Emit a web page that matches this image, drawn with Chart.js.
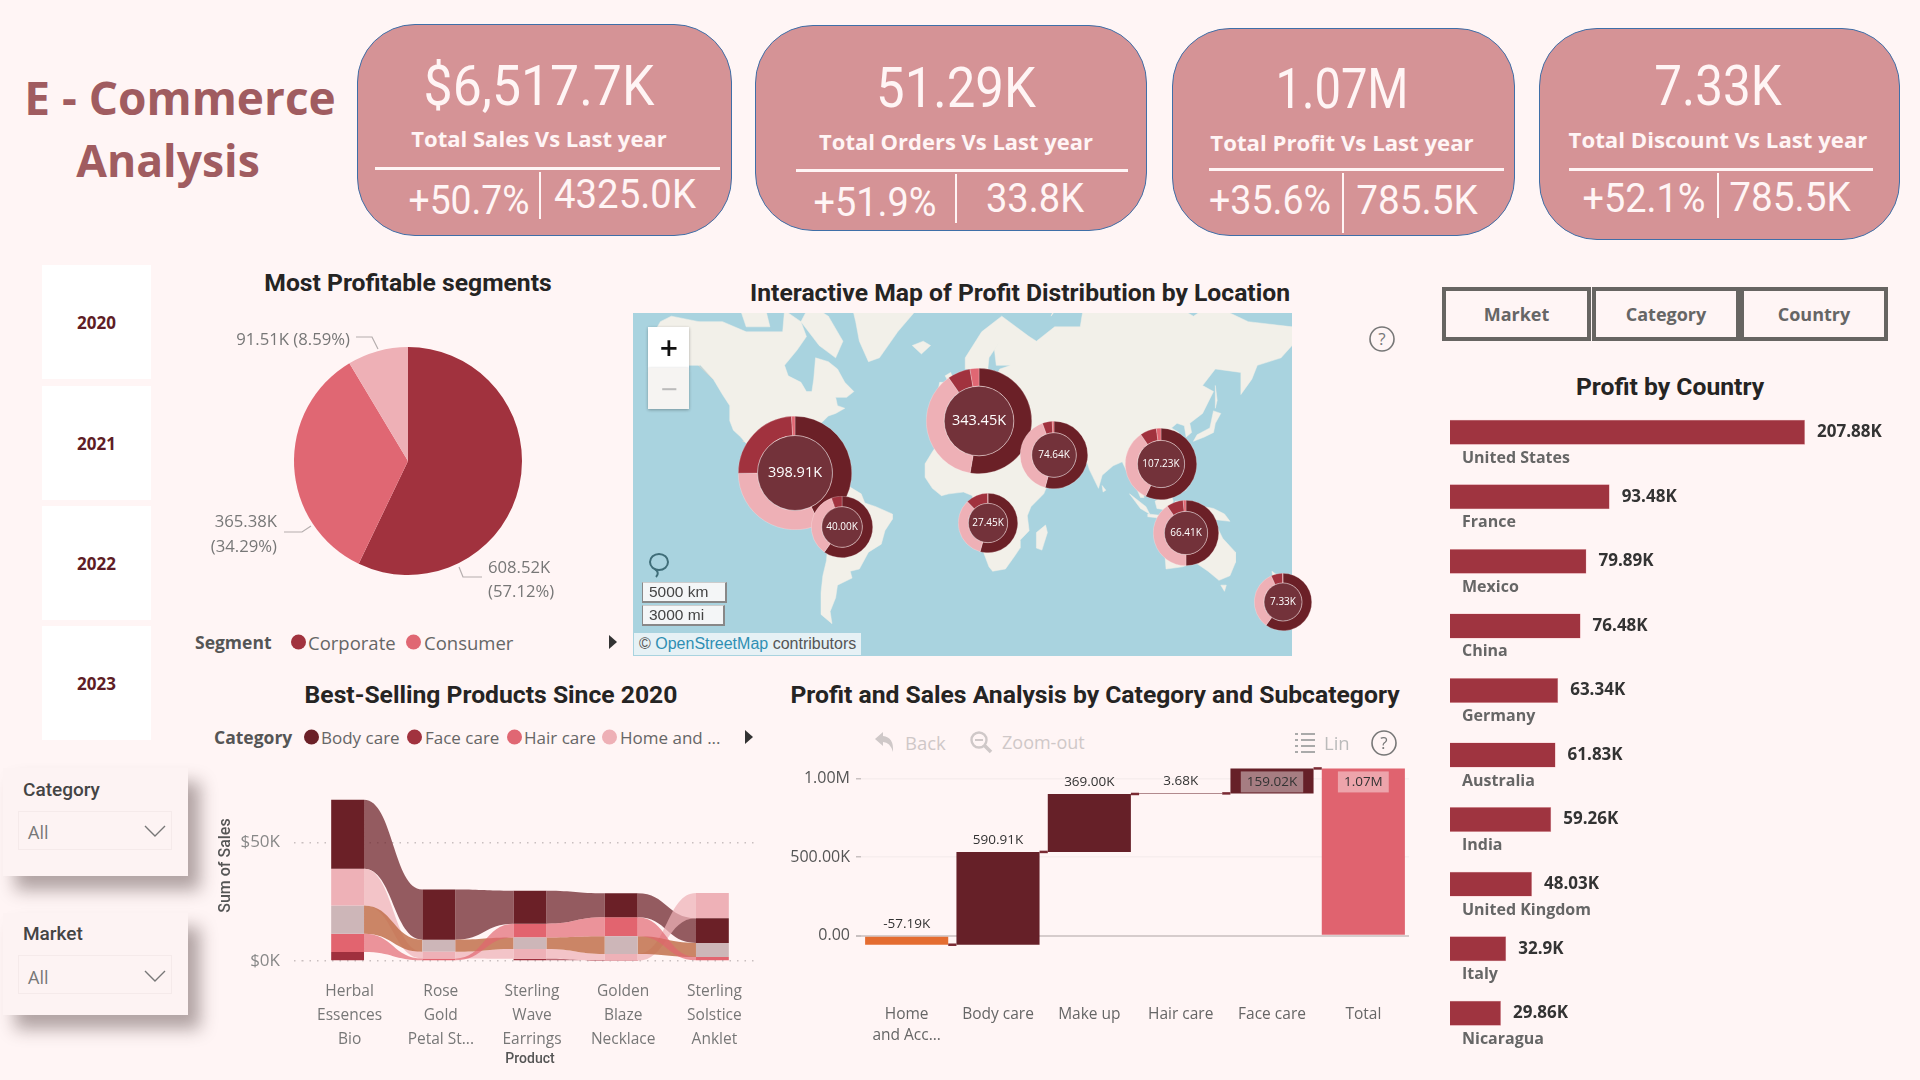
<!DOCTYPE html>
<html>
<head>
<meta charset="utf-8">
<title>E - Commerce Analysis</title>
<script src="https://cdn.jsdelivr.net/npm/chart.js@4"></script>
<style>
  html, body { margin: 0; padding: 0; background: #fff5f5; }
  #page { position: relative; width: 1920px; height: 1080px; overflow: hidden; background: #fff5f5; font-family: 'Open Sans', sans-serif; }
  #page canvas { position: absolute; }
  .t { position: absolute; white-space: nowrap; transform: translate(-50%, -50%); }
  .l { position: absolute; white-space: nowrap; transform: translateY(-50%); }
  .title { font-family: Roboto, sans-serif; font-weight: 700; font-size: 24.7px; color: #252423; }
  .card { position: absolute; background: #d59396; border: 1.5px solid #3f6fa8; border-radius: 58px; box-sizing: border-box; }
  .kpi { font-family: Roboto, sans-serif; color: #fff5f5; }
  .kpiSub { font-weight: 700; font-size: 21px; color: #fff5f5; }
  .rule { position: absolute; background: #fff5f5; }
  .year { position: absolute; left: 42px; width: 109px; height: 114px; background: #fff; display: flex; align-items: center; justify-content: center; font-weight: 700; font-size: 17px; color: #5e1d25; }
  .slicer { position: absolute; left: 3px; width: 185px; background: #fdf3f3; box-shadow: 12px 14px 16px rgba(60,40,40,.4); }
  .drop { position: absolute; left: 15px; width: 154px; height: 39px; border: 1px solid #f5eaea; box-sizing: border-box; }
  .dot { position: absolute; width: 15px; height: 15px; border-radius: 50%; transform: translateY(-50%); }
  .legend { font-size: 17px; color: #666; }
  .legendHead { font-weight: 700; font-size: 17.5px; color: #555; }
  .arrow { position: absolute; width: 0; height: 0; border-left: 8px solid #333; border-top: 7px solid transparent; border-bottom: 7px solid transparent; transform: translateY(-50%); }
  .btn { position: absolute; top: 287px; height: 54px; border: 4px solid #676562; box-sizing: border-box; display: flex; align-items: center; justify-content: center; font-weight: 700; font-size: 18px; color: #666; }
  .mapBox { position: absolute; background: #f4f6f7; box-sizing: border-box; }
  .tool { color: #cfc8c8; font-size: 18.5px; }
</style>
</head>
<body>
<div id="page">
  <div class="t" style="left:180px;top:97px;font-size:46px;font-weight:700;color:#a05c60">E - Commerce</div>
  <div class="t" style="left:168px;top:159px;font-size:44.5px;font-weight:700;color:#a05c60">Analysis</div>

  <div class="year" style="top:265px">2020</div>
  <div class="year" style="top:386px">2021</div>
  <div class="year" style="top:506px">2022</div>
  <div class="year" style="top:626px">2023</div>

  <div class="slicer" style="top:768px;height:108px">
    <div class="l" style="left:20px;top:21px;font-family:Roboto,sans-serif;font-weight:500;font-size:19px;color:#444">Category</div>
    <div class="drop" style="top:43px"></div>
    <div class="l" style="left:25px;top:64px;font-size:18px;color:#777">All</div>
    <svg style="position:absolute;left:141px;top:56px" width="22" height="14"><path d="M1 2 L11 12 L21 2" fill="none" stroke="#777" stroke-width="1.4"/></svg>
  </div>
  <div class="slicer" style="top:913px;height:102px">
    <div class="l" style="left:20px;top:20px;font-family:Roboto,sans-serif;font-weight:500;font-size:19px;color:#444">Market</div>
    <div class="drop" style="top:42px"></div>
    <div class="l" style="left:25px;top:64px;font-size:18px;color:#777">All</div>
    <svg style="position:absolute;left:141px;top:56px" width="22" height="14"><path d="M1 2 L11 12 L21 2" fill="none" stroke="#777" stroke-width="1.4"/></svg>
  </div>

  <div class="t title" style="left:408px;top:282px">Most Profitable segments</div>
  <canvas id="pieChart" style="left:188px;top:300px" width="440" height="322"></canvas>
  <div class="l legendHead" style="left:195px;top:642px">Segment</div>
  <div class="dot" style="left:291px;top:642px;background:#a1323e"></div>
  <div class="l legend" style="left:308px;top:642px;font-size:18.5px">Corporate</div>
  <div class="dot" style="left:406px;top:642px;background:#e06773"></div>
  <div class="l legend" style="left:424px;top:642px;font-size:18.5px">Consumer</div>
  <div class="arrow" style="left:609px;top:642px"></div>

  <div class="t title" style="left:1020px;top:292px">Interactive Map of Profit Distribution by Location</div>
  <canvas id="mapChart" style="left:633px;top:313px" width="659" height="343"></canvas>
  <div id="donuts"></div>
  <div class="mapBox" style="left:648px;top:327px;width:41px;height:41px;background:#fff;box-shadow:0 1px 3px rgba(0,0,0,.3)"></div>
  <div class="t" style="left:669px;top:347px;font-size:32px;font-weight:600;color:#111">+</div>
  <div class="mapBox" style="left:648px;top:368px;width:41px;height:41px;background:#f6f4f2;box-shadow:0 1px 3px rgba(0,0,0,.3)"></div>
  <div class="t" style="left:669px;top:388px;font-size:30px;color:#bbb">&minus;</div>
  <svg style="position:absolute;left:647px;top:552px" width="24" height="27"><ellipse cx="12" cy="10" rx="9" ry="8" fill="none" stroke="#3f6d78" stroke-width="2"/><path d="M8 17 Q13 21 9 25" fill="none" stroke="#3f6d78" stroke-width="2"/></svg>
  <div class="mapBox" style="left:642px;top:582px;width:85px;height:21px;border:2px solid #888;border-top:1px solid #ccc;border-left:1px solid #888"></div>
  <div class="l" style="left:649px;top:592px;font-family:'Liberation Sans',sans-serif;font-size:15.5px;color:#444">5000 km</div>
  <div class="mapBox" style="left:642px;top:605px;width:83px;height:21px;border:2px solid #888;border-top:1px solid #ccc;border-left:1px solid #888"></div>
  <div class="l" style="left:649px;top:615px;font-family:'Liberation Sans',sans-serif;font-size:15.5px;color:#444">3000 mi</div>
  <div class="mapBox" style="left:634px;top:633px;width:227px;height:22px;background:#e6f1f5"></div>
  <div class="l" style="left:639px;top:644px;font-family:'Liberation Sans',sans-serif;font-size:16px;color:#555">&copy; <span style="color:#2f8fb3">OpenStreetMap</span> contributors</div>
  <svg style="position:absolute;left:1369px;top:326px" width="26" height="26"><circle cx="13" cy="13" r="12" fill="none" stroke="#777" stroke-width="1.6"/><text x="13" y="19" font-size="17" text-anchor="middle" fill="#777" font-family="Open Sans">?</text></svg>

  <div class="t title" style="left:491px;top:694px">Best-Selling Products Since 2020</div>
  <div class="l legendHead" style="left:214px;top:737px">Category</div>
  <div class="dot" style="left:304px;top:737px;background:#6b2027"></div>
  <div class="l legend" style="left:321px;top:737px">Body care</div>
  <div class="dot" style="left:407px;top:737px;background:#a1323e"></div>
  <div class="l legend" style="left:425px;top:737px">Face care</div>
  <div class="dot" style="left:507px;top:737px;background:#e06773"></div>
  <div class="l legend" style="left:524px;top:737px">Hair care</div>
  <div class="dot" style="left:602px;top:737px;background:#eeb0b6"></div>
  <div class="l legend" style="left:620px;top:737px">Home and ...</div>
  <div class="arrow" style="left:745px;top:737px"></div>
  <canvas id="ribbonChart" style="left:205px;top:780px" width="565" height="290"></canvas>

  <div class="t title" style="left:1095px;top:694px">Profit and Sales Analysis by Category and Subcategory</div>
  <svg style="position:absolute;left:873px;top:730px" width="24" height="24"><path d="M2 9 L10 2 V6 Q21 7 20 22 Q17 12 10 12 V16 Z" fill="#cfc8c8"/></svg>
  <div class="l tool" style="left:905px;top:742px">Back</div>
  <svg style="position:absolute;left:969px;top:730px" width="24" height="24"><circle cx="10" cy="10" r="7.5" fill="none" stroke="#cfc8c8" stroke-width="2.4"/><path d="M15 15 L22 22" stroke="#cfc8c8" stroke-width="3.5"/><path d="M6 10 H14" stroke="#cfc8c8" stroke-width="2"/></svg>
  <div class="l tool" style="left:1002px;top:742px;font-size:18px">Zoom-out</div>
  <svg style="position:absolute;left:1295px;top:732px" width="20" height="22"><path d="M0 2 H3 M6 2 H20 M0 8 H3 M6 8 H20 M0 14 H3 M6 14 H20 M0 20 H3 M6 20 H20" stroke="#aaa" stroke-width="2"/></svg>
  <div class="l tool" style="left:1324px;top:742px;color:#bbb">Lin</div>
  <svg style="position:absolute;left:1371px;top:730px" width="26" height="26"><circle cx="13" cy="13" r="12" fill="none" stroke="#777" stroke-width="1.6"/><text x="13" y="19" font-size="17" text-anchor="middle" fill="#777" font-family="Open Sans">?</text></svg>
  <canvas id="waterfallChart" style="left:770px;top:751px" width="650" height="310"></canvas>

  <div class="btn" style="left:1442px;width:149px">Market</div>
  <div class="btn" style="left:1592px;width:148px">Category</div>
  <div class="btn" style="left:1740px;width:148px">Country</div>
  <div class="t title" style="left:1670px;top:386px">Profit by Country</div>
  <canvas id="countryChart" style="left:1430px;top:400px" width="490" height="661"></canvas>
</div>

<script>
// KPI cards
const kpiValues = ['$6,517.7K', '51.29K', '1.07M', '7.33K'];
const kpiTitles = ['Total Sales Vs Last year', 'Total Orders Vs Last year', 'Total Profit Vs Last year', 'Total Discount Vs Last year'];
const kpiGrowth = ['+50.7%', '+51.9%', '+35.6%', '+52.1%'];
const kpiLastYear = ['4325.0K', '33.8K', '785.5K', '785.5K'];

// Segment pie
const segmentNames = ['Corporate', 'Consumer', 'Home Office'];
const segmentProfit = [608.52, 365.38, 91.51];

const clusterLabels = ['398.91K', '40.00K', '343.45K', '74.64K', '27.45K', '107.23K', '66.41K', '7.33K'];
const clusterTotals = [398.91, 40.0, 343.45, 74.64, 27.45, 107.23, 66.41, 7.33];
const clusterLon = [-88.3, -62.5, 12.6, 53.7, 17.5, 112.4, 126, 179.3];
const clusterLat = [16.3, -13.1, 40.8, 25.3, -11, 21.1, -16.3, -47.7];
const clusterDark = [171, 23.9, 181, 40.5, 14.9, 61.2, 33.2, 4.4];
const clusterPink = [128, 13.9, 129, 30, 9.2, 35.8, 26.8, 2.44];
const clusterRed = [96, 2.2, 24, 3.5, 3.3, 8, 5.5, 0.47];
const clusterSalmon = [3.91, 0, 9.45, 0.64, 0.05, 2.23, 0.91, 0.02];

// Ribbon chart
const products = [['Herbal', 'Essences', 'Bio'], ['Rose', 'Gold', 'Petal St...'], ['Sterling', 'Wave', 'Earrings'], ['Golden', 'Blaze', 'Necklace'], ['Sterling', 'Solstice', 'Anklet']];
const bodyCareSales = [29.1, 21.1, 13.9, 10.1, 10.4];
const homeSales = [15.4, 2.8, 4.1, 2.9, 10.6];
const makeUpSales = [11.9, 5.1, 4.8, 7.4, 5.9];
const hairCareSales = [7.7, 1.1, 5.8, 8.0, 1.7];
const faceCareSales = [3.8, 0, 1.0, 0.1, 0];

// Waterfall
const waterfallNames = [['Home', 'and Acc...'], 'Body care', 'Make up', 'Hair care', 'Face care', 'Total'];
const waterfallSteps = [-57190, 590910, 369000, 3680, 159020];
const waterfallLabels = ['-57.19K', '590.91K', '369.00K', '3.68K', '159.02K', '1.07M'];

// Profit by country
const countries = ['United States', 'France', 'Mexico', 'China', 'Germany', 'Australia', 'India', 'United Kingdom', 'Italy', 'Nicaragua'];
const countryProfit = [207.88, 93.48, 79.89, 76.48, 63.34, 61.83, 59.26, 48.03, 32.9, 29.86];
const countryLabels = ['207.88K', '93.48K', '79.89K', '76.48K', '63.34K', '61.83K', '59.26K', '48.03K', '32.9K', '29.86K'];

// Rough land outlines for the map background, lon/lat
const landNorthAmerica = [[-168,66],[-162,70],[-156,71],[-141,70],[-128,70],[-115,68],[-108,68],[-95,68],[-94,72],[-85,70],[-82,67],[-87,64],[-94,60],[-92,57],[-85,55],[-82,52],[-79,52],[-78,56],[-77,62],[-70,61],[-65,59],[-61,55],[-56,52],[-60,50],[-66,50],[-65,47],[-61,46],[-66,44],[-70,43],[-74,40],[-76,36],[-81,31],[-80,26],[-81,25],[-83,29],[-89,30],[-94,29],[-97,27],[-98,22],[-95,18],[-91,19],[-90,21],[-87,21],[-88,16],[-83,15],[-83,10],[-79,9],[-78,8],[-81,7],[-85,10],[-92,14],[-97,16],[-105,20],[-106,24],[-112,30],[-115,31],[-118,34],[-122,37],[-124,41],[-124,47],[-128,51],[-133,56],[-140,60],[-148,60],[-153,58],[-160,55],[-165,54],[-158,58],[-165,61],[-165,64]];
const landGreenland = [[-73,78],[-60,82],[-35,83],[-20,80],[-22,72],[-32,68],[-42,62],[-48,61],[-53,66],[-55,70],[-60,76]];
const landBaffin = [[-80,73],[-70,71],[-62,66],[-66,62],[-75,65],[-85,70]];
const landEllesmere = [[-90,76],[-85,80],[-70,83],[-62,82],[-75,78]];
const landVictoria = [[-118,72],[-105,73],[-102,69],[-115,69]];
const landSouthAmerica = [[-77,8],[-72,12],[-62,11],[-52,5],[-50,0],[-44,-2],[-35,-6],[-35,-9],[-39,-15],[-41,-22],[-48,-26],[-53,-34],[-58,-35],[-57,-38],[-65,-41],[-66,-46],[-69,-51],[-68,-55],[-74,-52],[-74,-44],[-73,-37],[-71,-30],[-70,-18],[-76,-14],[-81,-6],[-80,-2],[-77,4]];
const landAfrica = [[-6,36],[10,37],[11,33],[20,32],[25,32],[32,31],[34,28],[37,21],[39,15],[43,12],[51,12],[48,5],[41,-2],[39,-7],[40,-15],[35,-20],[35,-24],[32,-28],[27,-34],[20,-35],[18,-33],[15,-26],[12,-17],[13,-8],[9,-1],[9,4],[4,6],[-4,5],[-8,4],[-13,8],[-17,14],[-17,21],[-13,27],[-9,32]];
const landEurasia = [[-9,37],[-9,43],[-1,44],[-4,48],[3,51],[8,54],[8,57],[11,54],[20,55],[24,59],[30,60],[22,60],[21,64],[24,66],[18,62],[17,57],[13,55],[11,59],[5,59],[5,62],[14,68],[25,71],[40,67],[44,66],[54,69],[68,69],[70,73],[80,73],[100,77],[113,74],[130,71],[140,73],[160,70],[184,69],[184,65],[178,62],[165,60],[162,56],[156,51],[156,58],[142,59],[135,54],[141,52],[135,44],[128,40],[129,36],[126,34],[125,39],[121,40],[118,38],[122,36],[120,30],[117,23],[110,21],[106,19],[109,13],[105,9],[100,13],[103,3],[101,3],[98,10],[98,16],[94,16],[91,22],[86,20],[80,15],[78,8],[73,18],[72,21],[67,25],[57,25],[56,27],[50,30],[48,30],[51,25],[56,25],[59,22],[55,17],[44,13],[42,17],[35,28],[35,36],[28,36],[26,40],[23,37],[20,40],[13,45],[18,40],[16,38],[10,44],[3,43],[0,39],[-2,37],[-6,36]];
const landBritain = [[-5,50],[1,51],[0,54],[-3,58],[-6,57],[-3,54],[-5,52]];
const landIreland = [[-10,52],[-6,52],[-6,55],[-9,55]];
const landIceland = [[-24,65],[-18,66],[-14,65],[-19,63]];
const landMadagascar = [[44,-16],[49,-12],[50,-16],[47,-25],[44,-24]];
const landJapan = [[130,32],[136,34],[141,36],[142,40],[145,44],[141,45],[139,38],[132,35]];
const landSumatra = [[95,5],[104,-2],[106,-6],[101,-3]];
const landBorneo = [[109,1],[117,7],[119,1],[116,-4],[110,-3]];
const landJava = [[105,-6],[114,-7],[114,-8.5],[105,-7.5]];
const landSulawesi = [[119,-5],[120,1],[125,1],[122,-5]];
const landNewGuinea = [[131,-1],[141,-3],[147,-6],[150,-10],[141,-9],[138,-7]];
const landPhilippines = [[120,18],[122,18],[124,12],[126,7],[122,7],[120,14]];
const landAustralia = [[114,-22],[122,-18],[126,-14],[130,-12],[136,-12],[136,-15],[140,-17],[142,-11],[146,-19],[153,-26],[153,-31],[150,-37],[144,-39],[138,-35],[131,-31],[124,-33],[115,-34]];
const landTasmania = [[145,-41],[148,-41],[147,-43.5]];
const landNorthIsland = [[173,-35],[178,-38],[175,-41],[174,-39]];
const landSouthIsland = [[172,-41],[174,-42],[168,-47],[166,-46]];
const landCuba = [[-85,22],[-75,20],[-78,22.5]];
const landHispaniola = [[-74,20],[-69,19],[-72,18]];
const landSriLanka = [[80,9.5],[82,7],[80.5,6]];
const landSvalbard = [[12,79],[25,80],[20,77]];
const landNovaya = [[52,71],[68,77],[56,74]];
const landSakhalin = [[142,54],[143,49],[142,46]];
const lands = [landNorthAmerica, landGreenland, landBaffin, landEllesmere, landVictoria, landSouthAmerica, landAfrica, landEurasia, landBritain, landIreland, landIceland, landMadagascar, landJapan, landSumatra, landBorneo, landJava, landSulawesi, landNewGuinea, landPhilippines, landAustralia, landTasmania, landNorthIsland, landSouthIsland, landCuba, landHispaniola, landSriLanka, landSvalbard, landNovaya, landSakhalin];
const seaCaspian = [[47,45],[53,46],[54,38],[50,37]];
const seaBlack = [[28,42],[34,46],[41,42],[35,41]];
const seaSuperior = [[-92,47],[-85,48],[-80,45],[-83,42],[-87,42],[-86,46]];
const seas = [seaCaspian, seaBlack, seaSuperior];
// a few country borders
const borders = [[[-124,49],[-95,49],[-83,45],[-75,45],[-67,47]],[[-141,70],[-141,60],[-133,56]],[[-117,32],[-106,31],[-97,26]],[[-70,-18],[-58,-20],[-54,-30]],[[-70,-5],[-60,5]],[[-17,21],[-5,25],[12,23],[25,20],[37,21]],[[25,32],[25,20],[24,10],[30,4],[41,-2]],[[-8,4],[-5,15],[12,23]],[[9,4],[15,13],[24,10]],[[13,-8],[30,-8],[39,-7]],[[12,-17],[25,-18],[35,-20]],[[20,-35],[20,-18]],[[5,51],[7,44]],[[14,54],[14,46]],[[24,59],[30,45]],[[40,67],[50,50],[47,45]],[[54,42],[73,40],[80,45],[87,49],[120,50],[135,48]],[[61,25],[62,35],[73,37]],[[73,37],[79,30],[92,27],[98,24],[106,22]],[[35,36],[48,30]]];

const dark = '#6b2027', red = '#a1323e', salmon = '#e06773', pink = '#eeb0b6';

const merc = lat => Math.log(Math.tan(Math.PI / 4 + lat * Math.PI / 360));

function addText(cls, x, y, txt, css, fitWidth) {
    const el = document.createElement('div');
    el.className = cls;
    el.textContent = txt;
    el.style.cssText = 'left:' + x + 'px;top:' + y + 'px;' + (css || '');
    document.getElementById('page').appendChild(el);
    if (fitWidth) {
        el.style.transform = 'translate(-50%, -50%) scaleX(' + (fitWidth / el.offsetWidth) + ')';
    }
}

function addBox(cls, x, y, w, h) {
    const el = document.createElement('div');
    el.className = cls;
    el.style.cssText = 'left:' + x + 'px;top:' + y + 'px;width:' + w + 'px;height:' + h + 'px';
    document.getElementById('page').appendChild(el);
}

function drawCards() {
    const boxes = [
        { x: 357, y: 24, w: 375, h: 212, mid: 539, bigY: 86, bigW: 231, subY: 139, subW: 255, ruleL: 375, ruleR: 720, ruleY: 168, split: 540, splitEnd: 219, gx: 469, gy: 200, gw: 121, lx: 625, ly: 194, lw: 142 },
        { x: 755, y: 25, w: 392, h: 206, mid: 956, bigY: 88, bigW: 160, subY: 142, subW: 274, ruleL: 796, ruleR: 1128, ruleY: 170, split: 956, splitEnd: 223, gx: 875, gy: 202, gw: 123, lx: 1035, ly: 198, lw: 98 },
        { x: 1172, y: 28, w: 343, h: 208, mid: 1342, bigY: 89, bigW: 133, subY: 143, subW: 263, ruleL: 1209, ruleR: 1504, ruleY: 169, split: 1343, splitEnd: 233, gx: 1270, gy: 200, gw: 122, lx: 1417, ly: 200, lw: 122 },
        { x: 1539, y: 28, w: 361, h: 212, mid: 1718, bigY: 86, bigW: 127, subY: 140, subW: 299, ruleL: 1569, ruleR: 1873, ruleY: 169, split: 1718, splitEnd: 218, gx: 1644, gy: 198, gw: 123, lx: 1790, ly: 197, lw: 122 }
    ];
    boxes.forEach((b, i) => {
        addBox('card', b.x, b.y, b.w, b.h);
        addText('t kpi', b.mid, b.bigY, kpiValues[i], 'font-size:56px', b.bigW);
        addText('t kpiSub', b.mid, b.subY, kpiTitles[i], '', b.subW);
        addBox('rule', b.ruleL, b.ruleY - 1, b.ruleR - b.ruleL, 3);
        addBox('rule', b.split - 1, b.ruleY + 4, 2, b.splitEnd - b.ruleY - 4);
        addText('t kpi', b.gx, b.gy, kpiGrowth[i], 'font-size:40px', b.gw);
        addText('t kpi', b.lx, b.ly, kpiLastYear[i], 'font-size:40px', b.lw);
    });
}

function drawPie() {
    const leaders = {
        id: 'leaders',
        afterDraw(chart) {
            const ctx = chart.ctx;
            const cx = chart.getDatasetMeta(0).data[0].x, cy = chart.getDatasetMeta(0).data[0].y;
            const line = pts => {
                ctx.beginPath();
                pts.forEach((p, i) => i ? ctx.lineTo(cx + p[0], cy + p[1]) : ctx.moveTo(cx + p[0], cy + p[1]));
                ctx.stroke();
            };
            ctx.save();
            ctx.strokeStyle = '#b5aeae';
            ctx.lineWidth = 1.2;
            line([[-52, -124], [-36, -124], [-30, -112]]);
            line([[-124, 71], [-106, 71], [-97, 65]]);
            line([[51, 106], [55, 116], [74, 116]]);
            ctx.fillStyle = '#777';
            ctx.font = "16.7px 'Open Sans'";
            ctx.textBaseline = 'middle';
            ctx.textAlign = 'right';
            ctx.fillText('91.51K (8.59%)', cx - 58, cy - 121);
            ctx.fillText('365.38K', cx - 131, cy + 61);
            ctx.fillText('(34.29%)', cx - 131, cy + 86);
            ctx.textAlign = 'left';
            ctx.fillText('608.52K', cx + 80, cy + 107);
            ctx.fillText('(57.12%)', cx + 80, cy + 131);
            ctx.restore();
        }
    };
    new Chart(document.getElementById('pieChart'), {
        type: 'pie',
        data: {
            labels: segmentNames,
            datasets: [{ data: segmentProfit, backgroundColor: [red, salmon, pink], borderWidth: 0 }]
        },
        options: {
            responsive: false,
            animation: false,
            radius: 114,
            layout: { padding: 0 },
            plugins: { legend: { display: false }, tooltip: { enabled: false } }
        },
        plugins: [leaders]
    });
}

function drawMap() {
    const shape = (pts, color) => ({
        data: pts.map(p => ({ x: p[0], y: merc(p[1]) })).concat([{ x: pts[0][0], y: merc(pts[0][1]) }]),
        showLine: true,
        fill: 'shape',
        backgroundColor: color,
        borderColor: color,
        borderWidth: 0.5,
        pointRadius: 0,
        tension: 0
    });
    const border = pts => ({
        data: pts.map(p => ({ x: p[0], y: merc(p[1]) })),
        showLine: true,
        fill: false,
        borderColor: '#dbd6cc',
        borderWidth: 1,
        pointRadius: 0
    });
    const datasets = lands.map(p => shape(p, '#f2f0e9')).concat(seas.map(p => shape(p, '#a9d3df'))).concat(borders.map(border));
    const map = new Chart(document.getElementById('mapChart'), {
        type: 'scatter',
        data: { datasets: datasets },
        options: {
            responsive: false,
            animation: false,
            layout: { padding: 0 },
            scales: {
                x: { type: 'linear', min: -177, max: 184, display: false },
                y: { type: 'linear', min: -1.464, max: 1.818, display: false }
            },
            plugins: {
                legend: { display: false },
                tooltip: { enabled: false }
            }
        },
        plugins: [{
            id: 'water',
            beforeDraw(chart) {
                chart.ctx.fillStyle = '#a9d3df';
                chart.ctx.fillRect(0, 0, chart.width, chart.height);
            }
        }]
    });

    // one doughnut per cluster, placed through the map scales
    const holder = document.getElementById('donuts');
    const mapCanvas = document.getElementById('mapChart');
    const mapLeft = mapCanvas.offsetLeft, mapTop = mapCanvas.offsetTop;
    clusterTotals.forEach((total, i) => {
        const r = Math.round(28.5 + 0.0716 * total);
        const cv = document.createElement('canvas');
        cv.width = r * 2;
        cv.height = r * 2;
        cv.style.left = (mapLeft + map.scales.x.getPixelForValue(clusterLon[i]) - r) + 'px';
        cv.style.top = (mapTop + map.scales.y.getPixelForValue(merc(clusterLat[i])) - r) + 'px';
        holder.appendChild(cv);
        const label = clusterLabels[i];
        new Chart(cv, {
            type: 'doughnut',
            data: {
                labels: ['Dark', 'Pink', 'Red', 'Salmon'],
                datasets: [{
                    data: [clusterDark[i], clusterPink[i], clusterRed[i], clusterSalmon[i]],
                    backgroundColor: [dark, pink, red, salmon],
                    borderColor: 'rgba(255,245,245,.5)',
                    borderWidth: 0.5
                }]
            },
            options: {
                responsive: false,
                animation: false,
                cutout: '66%',
                layout: { padding: 0 },
                plugins: { legend: { display: false }, tooltip: { enabled: false } }
            },
            plugins: [{
                id: 'centre',
                afterDraw(chart) {
                    const arc = chart.getDatasetMeta(0).data[0];
                    const ctx = chart.ctx;
                    ctx.save();
                    ctx.beginPath();
                    ctx.arc(arc.x, arc.y, arc.innerRadius, 0, Math.PI * 2);
                    ctx.fillStyle = '#73323a';
                    ctx.fill();
                    ctx.strokeStyle = 'rgba(255,235,235,.55)';
                    ctx.lineWidth = 0.8;
                    ctx.stroke();
                    ctx.fillStyle = '#fff';
                    ctx.font = (r > 50 ? 14.5 : 10) + "px 'Open Sans'";
                    ctx.textAlign = 'center';
                    ctx.textBaseline = 'middle';
                    ctx.fillText(label, arc.x, arc.y);
                    ctx.restore();
                }
            }]
        });
    });
}

function drawRibbon() {
    const series = [
        { name: 'Body care', values: bodyCareSales, bar: '#6b2027', ribbon: 'rgba(107,32,39,.72)' },
        { name: 'Home and Acc...', values: homeSales, bar: '#eeb1b7', ribbon: 'rgba(238,177,183,.72)' },
        { name: 'Make up', values: makeUpSales, bar: '#cdb6b8', ribbon: 'rgba(194,113,76,.85)' },
        { name: 'Hair care', values: hairCareSales, bar: '#e2646f', ribbon: 'rgba(226,100,111,.68)' },
        { name: 'Face care', values: faceCareSales, bar: '#a0303e', ribbon: 'rgba(160,48,62,.7)' }
    ];
    // ribbon charts re-rank the series in every column, biggest on top
    series.forEach(s => { s.ranges = []; });
    products.forEach((p, col) => {
        const order = series.slice().sort((a, b) => a.values[col] - b.values[col]);
        let base = 0;
        order.forEach(s => {
            s.ranges[col] = [base, base + s.values[col]];
            base += s.values[col];
        });
    });
    const ribbons = {
        id: 'ribbons',
        beforeDatasetsDraw(chart) {
            const ctx = chart.ctx;
            series.forEach((s, si) => {
                const bars = chart.getDatasetMeta(si).data;
                for (let c = 0; c < bars.length - 1; c++) {
                    if (!s.values[c] || !s.values[c + 1]) continue;
                    const a = bars[c], b = bars[c + 1];
                    const x0 = a.x + a.width / 2, x1 = b.x - b.width / 2, xm = (x0 + x1) / 2;
                    ctx.beginPath();
                    ctx.moveTo(x0, a.y);
                    ctx.bezierCurveTo(xm, a.y, xm, b.y, x1, b.y);
                    ctx.lineTo(x1, b.base);
                    ctx.bezierCurveTo(xm, b.base, xm, a.base, x0, a.base);
                    ctx.closePath();
                    ctx.fillStyle = s.ribbon;
                    ctx.fill();
                }
            });
        }
    };
    new Chart(document.getElementById('ribbonChart'), {
        type: 'bar',
        data: {
            labels: products,
            datasets: series.map(s => ({
                label: s.name,
                data: s.ranges,
                backgroundColor: s.bar,
                grouped: false,
                barPercentage: 0.36,
                categoryPercentage: 1
            }))
        },
        options: {
            responsive: false,
            animation: false,
            layout: { padding: { top: 10, right: 12 } },
            scales: {
                x: {
                    grid: { display: false },
                    border: { display: false },
                    afterFit: s => { s.height = 109; s.paddingLeft = 0; s.paddingRight = 0; },
                    ticks: { padding: 11, labelOffset: 2, maxRotation: 0, autoSkip: false, color: '#777', font: { family: 'Open Sans', size: 15.5, lineHeight: 1.55 } },
                    title: { display: true, text: 'Product', color: '#555', font: { family: 'Roboto', size: 14, weight: '500' }, padding: { top: 0, bottom: 2 } }
                },
                y: {
                    min: 0,
                    max: 72,
                    afterFit: s => { s.width = 97; s.paddingTop = 0; s.paddingBottom = 0; },
                    afterBuildTicks: s => { s.ticks = s.ticks.filter(t => t.value % 50 === 0); },
                    ticks: { stepSize: 50, padding: 14, color: '#888', font: { family: 'Open Sans', size: 17 }, callback: v => '$' + v + 'K' },
                    grid: { color: '#c9bfc0', tickColor: '#c9bfc0', lineWidth: 1.5, drawTicks: true, tickLength: 8, borderDash: [1.5, 6], tickBorderDash: [1.5, 6] },
                    border: { display: false, dash: [1.5, 6] },
                    title: { display: true, text: '\u00a0\u00a0\u00a0\u00a0\u00a0Sum of Sales', color: '#555', font: { family: 'Roboto', size: 16, weight: '500' }, padding: { top: 11, bottom: 0 } }
                }
            },
            plugins: { legend: { display: false }, tooltip: { enabled: false } }
        },
        plugins: [ribbons]
    });
}

function drawWaterfall() {
    const ranges = [];
    let running = 0;
    waterfallSteps.forEach(step => {
        ranges.push([Math.min(running, running + step), Math.max(running, running + step)]);
        running += step;
    });
    const total = running;
    ranges.push([0, total]);
    const colors = ranges.map((r, i) => i === ranges.length - 1 ? '#e0636f' : (waterfallSteps[i] < 0 ? '#e46c30' : '#662028'));
    const extras = {
        id: 'extras',
        afterDatasetsDraw(chart) {
            const ctx = chart.ctx, bars = chart.getDatasetMeta(0).data, y = chart.scales.y;
            ctx.save();
            // connectors
            let level = 0;
            ctx.strokeStyle = '#7a2a33';
            ctx.lineWidth = 2.5;
            for (let i = 0; i < bars.length - 1; i++) {
                level += waterfallSteps[i] || 0;
                ctx.beginPath();
                ctx.moveTo(bars[i].x + bars[i].width / 2, y.getPixelForValue(level));
                ctx.lineTo(bars[i + 1].x - bars[i + 1].width / 2, y.getPixelForValue(level));
                ctx.stroke();
            }
            ctx.font = "13.5px 'Open Sans'";
            ctx.textAlign = 'center';
            ctx.textBaseline = 'middle';
            bars.forEach((bar, i) => {
                const inside = i >= 4;
                const top = y.getPixelForValue(ranges[i][1]);
                const ly = inside ? top + 14 : top - 12;
                if (inside) {
                    const w = ctx.measureText(waterfallLabels[i]).width + 12;
                    ctx.fillStyle = 'rgba(255,255,255,.42)';
                    ctx.fillRect(bar.x - w / 2, ly - 11, w, 21);
                }
                ctx.fillStyle = '#333';
                ctx.fillText(waterfallLabels[i], bar.x, ly);
            });
            ctx.restore();
        }
    };
    new Chart(document.getElementById('waterfallChart'), {
        type: 'bar',
        data: {
            labels: waterfallNames,
            datasets: [{ data: ranges, backgroundColor: colors, barPercentage: 0.91, categoryPercentage: 1 }]
        },
        options: {
            responsive: false,
            animation: false,
            layout: { padding: { top: 12, right: 11 } },
            scales: {
                x: {
                    grid: { display: false },
                    border: { display: false },
                    afterFit: s => { s.height = 86; s.paddingLeft = 0; s.paddingRight = 0; },
                    ticks: { padding: 21, maxRotation: 0, autoSkip: false, color: '#666', font: { family: 'Open Sans', size: 15.5, lineHeight: 1.35 } }
                },
                y: {
                    min: -250000,
                    max: 1100000,
                    afterFit: s => { s.width = 91; s.paddingTop = 0; s.paddingBottom = 0; },
                    afterBuildTicks: s => { s.ticks = [0, 500000, 1000000].map(v => ({ value: v })); },
                    ticks: {
                        padding: 6,
                        color: '#555',
                        font: { family: 'Open Sans', size: 16 },
                        callback: v => v === 0 ? '0.00' : (v >= 1000000 ? (v / 1000000).toFixed(2) + 'M' : (v / 1000).toFixed(2) + 'K')
                    },
                    grid: {
                        tickLength: 5,
                        tickColor: '#c8c0c0',
                        lineWidth: c => c.tick.value === 0 ? 2 : 1.5,
                        color: c => c.tick.value === 0 ? '#d6cccc' : '#f7eeee'
                    },
                    border: { display: false }
                }
            },
            plugins: { legend: { display: false }, tooltip: { enabled: false } }
        },
        plugins: [extras]
    });
}

function drawCountries() {
    const valueLabels = {
        id: 'valueLabels',
        afterDatasetsDraw(chart) {
            const ctx = chart.ctx;
            ctx.save();
            ctx.font = "700 17px 'Open Sans'";
            ctx.fillStyle = '#333';
            ctx.textBaseline = 'middle';
            chart.getDatasetMeta(0).data.forEach((bar, i) => ctx.fillText(countryLabels[i], bar.x + 12, bar.y));
            ctx.restore();
        }
    };
    new Chart(document.getElementById('countryChart'), {
        type: 'bar',
        data: {
            labels: countries,
            datasets: [{ data: countryProfit, backgroundColor: '#9f3440', borderColor: '#e9a3a9', borderWidth: 0.5, barPercentage: 0.387, categoryPercentage: 1 }]
        },
        options: {
            indexAxis: 'y',
            responsive: false,
            animation: false,
            layout: { padding: { bottom: 15.5 } },
            scales: {
                x: { min: 0, max: 275.2, display: false },
                y: {
                    afterFit: s => { s.width = 20; s.paddingTop = 0; s.paddingBottom = 0; },
                    grid: { display: false },
                    border: { display: false },
                    ticks: { mirror: true, padding: 12, labelOffset: 26, autoSkip: false, color: '#666', font: { family: 'Open Sans', size: 16, weight: '700' } }
                }
            },
            plugins: { legend: { display: false }, tooltip: { enabled: false } }
        },
        plugins: [valueLabels]
    });
}

drawCards();
drawPie();
drawMap();
drawRibbon();
drawWaterfall();
drawCountries();
</script>
</body>
</html>
